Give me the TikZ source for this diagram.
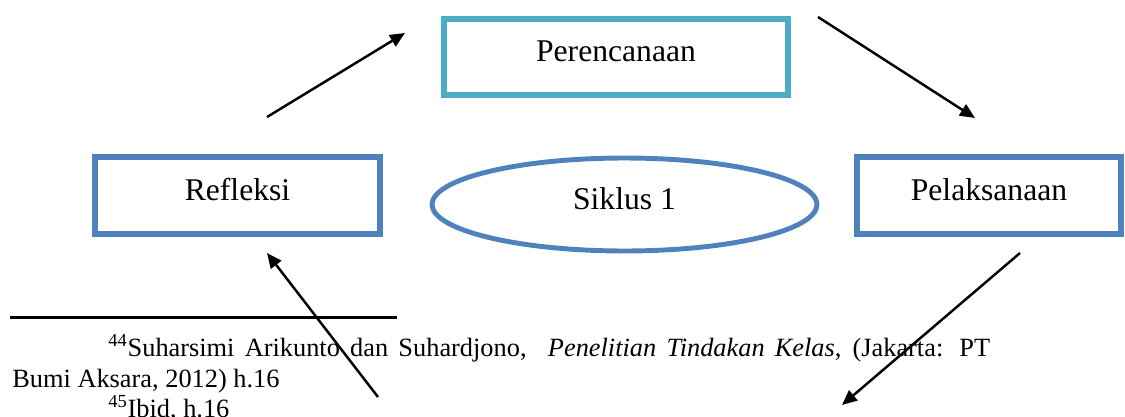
\documentclass[tikz,border=0pt]{standalone}
\usepackage{fontspec}
\setmainfont{Liberation Serif}
\usetikzlibrary{shapes.geometric, arrows.meta}
\usetikzlibrary{positioning}
\definecolor{tealline}{HTML}{4BACC6}
\definecolor{blueline}{HTML}{4F81BD}
\tikzstyle{stage} = [rectangle, draw=blueline, line width=3.4pt, inner sep=0pt, text height=0.7em, text depth=0.18em, font=\fontsize{18}{22}\selectfont]
\tikzstyle{siklus} = [ellipse, draw=blueline, line width=2.8pt, inner sep=0pt, text height=0.7em, text depth=0.18em, font=\fontsize{18}{22}\selectfont]
\tikzstyle{flow} = [line width=1.4pt, -{Triangle[length=3mm, width=2.6mm]}]
\tikzstyle{fnote} = [inner sep=0pt, anchor=base west, font=\fontsize{15}{18}\selectfont]

\begin{document}
\begin{tikzpicture}[x=0.02cm, y=-0.02cm]

    \clip (0, 0) rectangle (1125, 416);

    \node (perencanaan) [stage, draw=tealline, minimum width=6.88cm, minimum height=1.52cm] at (616, 57) {Perencanaan};
    \node (refleksi) [stage, minimum width=5.7cm, minimum height=1.54cm] at (237.5, 195.5) {Refleksi};
    \node (pelaksanaan) [stage, minimum width=5.28cm, minimum height=1.54cm] at (989, 195.5) {Pelaksanaan};
    \node (siklus1) [siklus, minimum width=7.7cm, minimum height=1.86cm] at (624.5, 204.5) {Siklus 1};

    % footnotes
    \draw [line width=1.7pt] (10, 317) coordinate (rulea) -- (397, 317) coordinate (ruleb);
    \node (fn44a) [fnote] at (108, 356) {\makebox[17.64cm][s]{\textsuperscript{44}Suharsimi Arikunto dan Suhardjono, \ \textit{Penelitian Tindakan Kelas}, (Jakarta: PT}};
    \node (fn44b) [fnote] at (12, 387) {Bumi Aksara, 2012) h.16};
    \node (fn45) [fnote] at (108, 417) {\textsuperscript{45}Ibid, h.16};

    % arrows of the cycle
    \coordinate (ref_out) at (267, 117);
    \coordinate (per_in) at (405, 33);
    \coordinate (per_out) at (818, 17);
    \coordinate (pel_in) at (975, 118);
    \coordinate (pel_out) at (1020, 253);
    \coordinate (obs_in) at (842, 405);
    \coordinate (obs_out) at (378, 397);
    \coordinate (ref_in) at (267, 253);

    \draw [flow] (ref_out) -- (per_in);
    \draw [flow] (per_out) -- (pel_in);
    \draw [flow] (pel_out) -- (obs_in);
    \draw [flow] (obs_out) -- (ref_in);

\end{tikzpicture}
\end{document}
